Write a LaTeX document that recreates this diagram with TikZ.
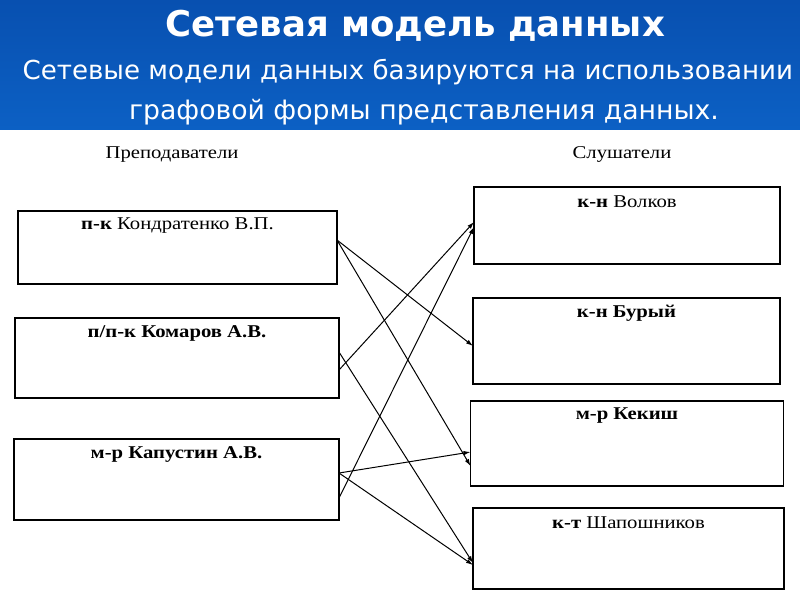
\documentclass[tikz,border=0pt]{standalone}
\usepackage{fontspec}
\setmainfont{Liberation Serif}[FakeStretch=1.15]
\newfontfamily\slidefont{DejaVu Sans}
\usetikzlibrary{arrows.meta,positioning,calc}
\definecolor{slideblue}{RGB}{12,96,196}
\definecolor{slidedark}{RGB}{8,80,176}
\tikzstyle{box} = [draw=black,line width=1.3pt,inner sep=0pt,outer sep=0pt]
\tikzstyle{link} = [-{Latex[length=7pt,width=4.5pt]},line width=1pt]
\tikzset{>=latex,
  boxtext/.style={label={[anchor=center,yshift=-15pt,font=\fontsize{18}{20}\selectfont]north:#1}}}

\begin{document}
\begin{tikzpicture}[x=1pt,y=-1pt]
    \useasboundingbox (0,0) rectangle (800,600);
    \shade [top color=slidedark,bottom color=slideblue] (0,0) rectangle (800,129);

    \node [text=white,font=\slidefont\bfseries\fontsize{35.5}{38}\selectfont] (title) at (415,26) {Сетевая модель данных};
    \node [text=white,anchor=west,font=\slidefont\fontsize{26.1}{30}\selectfont] (suba) at (19,72) {Сетевые модели данных базируются на использовании};
    \node [text=white,font=\slidefont\fontsize{26.7}{30}\selectfont] (subb) at (424,112) {графовой формы представления данных.};

    \node [font=\fontsize{18}{20}\selectfont] (teachers) at (172,155) {Преподаватели};
    \node [font=\fontsize{18}{20}\selectfont] (students) at (622,154) {Слушатели};

    \node [box,minimum width=319pt,minimum height=73pt,boxtext={\textbf{п-к} Кондратенко В.П.}] (kond) at (177.5,247.5) {};
    \node [box,minimum width=324pt,minimum height=80pt,boxtext={\textbf{п/п-к Комаров А.В.}}] (komar) at (177,358) {};
    \node [box,minimum width=325pt,minimum height=81pt,boxtext={\textbf{м-р Капустин А.В.}}] (kapus) at (176.5,479.5) {};

    \node [box,minimum width=306pt,minimum height=77pt,boxtext={\textbf{к-н} Волков}] (volk) at (627,225.5) {};
    \node [box,minimum width=307pt,minimum height=86pt,boxtext={\textbf{к-н Бурый}}] (bury) at (626.5,341) {};
    \node [box,minimum width=313pt,minimum height=85pt,boxtext={\textbf{м-р Кекиш}}] (kekis) at (627,443.5) {};
    \node [box,minimum width=311pt,minimum height=81pt,boxtext={\textbf{к-т} Шапошников}] (shap) at (628.5,548.5) {};

    \draw [link] ([yshift=7.5pt]kond.east) -- ([yshift=-5pt]bury.west);
    \draw [link] ([yshift=7.5pt]kond.east) -- ([yshift=-22.5pt]kekis.west);
    \draw [link] ([yshift=-12pt]komar.east) -- ([yshift=3.5pt]volk.west);
    \draw [link] ([yshift=6pt]komar.east) -- ([yshift=-14.5pt]shap.west);
    \draw [link] ([yshift=-18.5pt]kapus.east) -- ([yshift=-1.5pt]volk.west);
    \draw [link] ([yshift=6.5pt]kapus.east) -- ([yshift=-8.5pt]kekis.west);
    \draw [link] ([yshift=6.5pt]kapus.east) -- ([yshift=-16.5pt]shap.west);
\end{tikzpicture}
\end{document}
